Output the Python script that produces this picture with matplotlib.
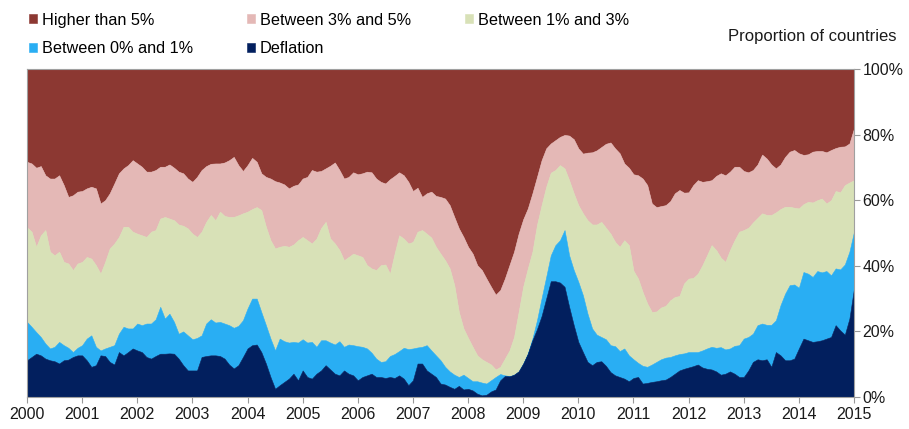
import numpy as np
import matplotlib.pyplot as plt

plt.rcParams["font.family"] = ["Liberation Sans", "DejaVu Sans"]

# Monthly readings, Jan 2000 .. Jan 2015 (181 points), cumulative share of countries (%)
# deflation = inflation < 0 ; below_1 = inflation < 1% ; below_3 = < 3% ; below_5 = < 5%
deflation = [
    11.2, 12.2, 13.2, 12.7, 11.7, 11.2, 10.9, 10.2, 11.2, 11.4, 12.2, 12.7,
    12.7, 11.2, 9.2, 9.7, 12.7, 12.5, 10.7, 9.9, 13.7, 12.7, 13.7, 14.8,
    14.2, 13.7, 12.2, 11.7, 12.5, 13.2, 13.2, 13.3, 13.2, 11.7, 9.7, 8.1,
    8.1, 8.1, 12.2, 12.5, 12.7, 12.7, 12.5, 11.7, 9.9, 8.7, 9.7, 12.2,
    14.8, 15.8, 16.0, 13.7, 10.2, 6.1, 2.5, 3.6, 4.6, 5.6, 7.1, 5.1,
    8.1, 6.1, 5.6, 7.1, 8.1, 9.7, 8.4, 7.1, 6.6, 8.1, 7.1, 6.6,
    5.1, 6.1, 6.6, 7.1, 6.1, 6.1, 5.8, 6.1, 5.8, 6.6, 5.6, 3.6,
    5.1, 10.2, 10.2, 8.1, 7.1, 6.1, 4.1, 3.8, 3.1, 2.5, 3.4, 2.3,
    2.5, 2.0, 1.0, 0.5, 0.7, 1.7, 2.3, 5.1, 6.4, 6.3, 6.8, 7.8,
    10.2, 13.2, 17.3, 20.7, 24.7, 30.0, 35.3, 35.3, 34.9, 33.6, 27.5, 21.9,
    16.8, 13.7, 10.7, 9.7, 10.7, 10.9, 9.5, 7.6, 6.6, 6.1, 5.6, 4.8,
    5.8, 6.1, 4.1, 4.3, 4.6, 4.8, 5.1, 5.3, 6.1, 7.1, 8.1, 8.6,
    9.0, 9.4, 9.9, 9.0, 8.6, 8.4, 7.8, 6.8, 7.1, 7.8, 7.1, 6.1,
    6.1, 8.1, 10.7, 11.5, 11.2, 11.5, 9.2, 13.7, 12.7, 11.2, 11.2, 11.7,
    14.8, 17.8, 17.3, 16.8, 17.0, 17.3, 17.8, 18.3, 21.9, 20.3, 19.0, 23.9,
    33.1,
]
below_1 = [
    22.9, 21.4, 19.8, 18.3, 16.3, 14.8, 15.3, 16.8, 15.8, 15.0, 13.7, 15.0,
    15.8, 17.8, 18.8, 15.3, 14.2, 14.8, 15.3, 15.8, 19.3, 21.4, 20.9, 20.9,
    22.4, 21.9, 22.4, 22.4, 23.7, 27.5, 23.9, 25.4, 22.9, 19.3, 20.0, 18.8,
    17.6, 18.0, 18.8, 22.4, 23.7, 22.7, 22.9, 22.4, 21.9, 21.1, 21.7, 23.4,
    27.0, 30.0, 30.0, 25.9, 21.9, 17.8, 14.2, 17.8, 17.0, 16.6, 16.8, 16.6,
    17.6, 16.6, 16.8, 15.3, 17.3, 17.3, 16.6, 16.0, 17.0, 15.3, 16.0, 15.8,
    15.5, 15.3, 14.8, 13.5, 11.7, 10.7, 10.9, 12.5, 13.1, 14.0, 15.0, 14.6,
    14.8, 15.1, 15.3, 15.8, 14.2, 12.7, 11.2, 9.2, 7.8, 6.8, 6.1, 6.8,
    5.8, 4.8, 4.8, 4.4, 4.1, 5.1, 6.1, 7.0, 6.6, 6.4, 6.5, 7.4,
    9.9, 13.2, 17.8, 23.4, 30.1, 36.6, 43.2, 46.3, 47.8, 50.9, 43.2, 38.7,
    35.1, 31.0, 25.4, 20.9, 19.0, 18.3, 17.6, 15.8, 15.5, 14.0, 14.8, 12.7,
    11.5, 10.4, 9.5, 9.2, 9.9, 10.7, 11.5, 12.0, 12.2, 12.7, 13.1, 13.3,
    13.7, 13.7, 13.7, 14.2, 14.8, 15.3, 15.0, 15.2, 14.5, 14.8, 15.6, 15.8,
    17.8, 18.3, 19.3, 21.9, 22.4, 22.0, 22.0, 23.4, 28.0, 31.5, 34.1, 34.3,
    33.3, 38.1, 37.6, 36.6, 38.4, 38.0, 38.4, 37.1, 39.2, 38.9, 40.4, 44.3,
    50.4,
]
below_3 = [
    51.7, 50.4, 45.8, 49.3, 50.9, 44.3, 43.2, 44.3, 41.2, 40.7, 38.7, 40.7,
    41.2, 42.7, 42.2, 40.2, 37.6, 41.2, 45.3, 46.8, 48.8, 51.9, 51.9, 50.4,
    49.8, 49.3, 48.8, 50.4, 50.9, 54.4, 54.9, 54.4, 53.9, 52.6, 52.2, 51.4,
    49.8, 48.8, 50.4, 53.4, 55.5, 53.9, 56.5, 55.2, 54.9, 54.9, 55.4, 56.0,
    56.5, 57.3, 57.9, 57.0, 51.9, 47.8, 45.3, 45.8, 46.1, 45.8, 46.5, 47.8,
    48.8, 47.8, 46.8, 48.3, 51.5, 53.4, 48.3, 46.8, 44.8, 41.7, 42.7, 43.7,
    43.2, 42.7, 40.2, 39.2, 38.7, 40.2, 40.4, 37.6, 43.7, 49.3, 48.3, 46.8,
    47.3, 50.4, 50.9, 49.8, 48.6, 45.8, 43.7, 41.7, 39.2, 34.1, 25.9, 20.9,
    18.0, 15.3, 12.7, 11.5, 10.7, 9.9, 8.4, 9.2, 11.7, 14.2, 18.3, 25.9,
    33.7, 39.2, 44.3, 52.5, 58.5, 64.1, 68.4, 69.2, 70.7, 69.7, 66.1, 62.1,
    58.5, 56.0, 53.9, 52.6, 52.6, 53.4, 51.6, 49.8, 47.3, 45.8, 47.8, 46.3,
    38.5, 36.1, 32.0, 28.5, 25.9, 26.1, 27.3, 27.8, 29.5, 30.5, 30.8, 34.6,
    36.1, 36.3, 37.6, 40.2, 43.2, 46.3, 44.8, 42.5, 41.2, 44.8, 47.8, 50.4,
    50.9, 51.6, 53.2, 54.6, 56.0, 55.5, 55.5, 56.3, 57.3, 58.0, 58.0, 57.7,
    57.5, 58.8, 59.5, 59.3, 60.0, 60.5, 59.0, 60.0, 62.8, 62.4, 64.6, 65.4,
    66.1,
]
below_5 = [
    71.7, 71.2, 69.9, 70.4, 67.6, 66.6, 66.6, 67.6, 64.6, 61.0, 61.5, 62.6,
    62.8, 63.6, 64.1, 63.6, 59.0, 60.0, 62.1, 65.1, 68.2, 69.7, 70.7, 72.2,
    71.2, 70.2, 68.7, 68.7, 69.2, 70.2, 70.2, 70.9, 69.9, 68.7, 68.2, 66.6,
    65.6, 67.1, 69.2, 70.4, 71.1, 71.2, 71.2, 71.5, 72.2, 73.2, 70.7, 68.9,
    70.7, 72.9, 71.7, 68.2, 67.1, 66.6, 65.8, 65.4, 64.8, 63.6, 64.4, 64.8,
    66.6, 67.1, 69.2, 68.7, 68.9, 69.7, 70.5, 71.5, 69.2, 66.6, 67.1, 68.5,
    67.9, 68.2, 68.7, 68.5, 66.6, 65.6, 65.1, 66.4, 67.4, 68.5, 67.6, 65.6,
    62.8, 63.8, 61.0, 62.1, 62.6, 61.3, 61.0, 60.5, 58.5, 54.9, 51.4, 48.8,
    45.8, 43.7, 40.2, 38.7, 36.1, 33.6, 31.2, 32.6, 36.1, 40.2, 44.3, 49.8,
    54.2, 57.5, 62.1, 67.1, 72.2, 75.8, 77.3, 78.3, 79.3, 79.9, 79.7, 78.6,
    75.8, 74.2, 74.5, 74.6, 75.2, 76.2, 77.2, 77.6, 75.8, 74.3, 71.2, 69.9,
    67.9, 67.6, 66.6, 64.6, 59.0, 57.9, 58.2, 58.5, 59.7, 62.1, 63.1, 62.3,
    62.4, 64.6, 66.1, 65.6, 65.8, 66.1, 67.4, 68.2, 67.6, 68.7, 70.2, 70.2,
    68.9, 68.5, 69.2, 70.9, 73.9, 72.7, 70.9, 69.7, 70.9, 73.2, 74.8, 75.3,
    74.3, 73.8, 74.0, 74.8, 75.0, 75.0, 74.6, 75.3, 75.9, 76.3, 76.4, 77.3,
    81.9,
]

colors = {"Higher than 5%": "#8c3832", "Between 3% and 5%": "#e4b8b6",
          "Between 1% and 3%": "#d8e1b7", "Between 0% and 1%": "#29aef3",
          "Deflation": "#021f5e"}
# legend order as laid out in the chart (filled column by column)
legend_order = ["Higher than 5%", "Between 0% and 1%", "Between 3% and 5%",
                "Deflation", "Between 1% and 3%"]
years = list(range(2000, 2016))

t = 2000 + np.arange(len(deflation)) / 12.0
d = np.array(deflation) / 100
b1 = np.array(below_1) / 100
b3 = np.array(below_3) / 100
b5 = np.array(below_5) / 100
zero = np.zeros_like(d)
one = np.ones_like(d)

fig = plt.figure(figsize=(9.09, 4.29), dpi=100)
ax = fig.add_axes([27 / 909, 1 - 397 / 429, 827 / 909, 328 / 429])

bands = [
    ("Higher than 5%", b5, one),
    ("Between 3% and 5%", b3, b5),
    ("Between 1% and 3%", b1, b3),
    ("Between 0% and 1%", d, b1),
    ("Deflation", zero, d),
]
handles = {}
for name, lo, hi in bands:
    handles[name] = ax.fill_between(t, lo, hi, facecolor=colors[name],
                                    edgecolor=colors[name], linewidth=0.4,
                                    label=name)

ax.set_xlim(2000, 2015)
ax.set_ylim(0, 1)
ax.set_xticks(years)
ax.set_xticklabels([str(y) for y in years])
yt = np.arange(0, 1.01, 0.2)
ax.set_yticks(yt)
ax.set_yticklabels([f"{int(round(v * 100))}%" for v in yt])
ax.yaxis.tick_right()
ax.tick_params(axis="both", direction="out", length=4, color="#999999",
               labelsize=11.5, labelcolor="#1a1a1a")
ax.tick_params(axis="y", pad=2)
ax.tick_params(axis="x", pad=3)
for s in ax.spines.values():
    s.set_color("#a0a0a0")
    s.set_linewidth(0.8)

ax.legend([handles[n] for n in legend_order], legend_order,
          ncol=3, frameon=False, loc="upper left",
          bbox_to_anchor=(0.0025, 1.172), fontsize=11.7,
          handlelength=0.5, handleheight=0.5, handletextpad=0.3,
          columnspacing=3.3, labelspacing=0.85, borderpad=0,
          borderaxespad=0)

fig.text(897 / 909, 1 - 37 / 429, "Proportion of countries", ha="right",
         va="center", fontsize=12, color="#1a1a1a")

fig.savefig("out.png", dpi=100)
